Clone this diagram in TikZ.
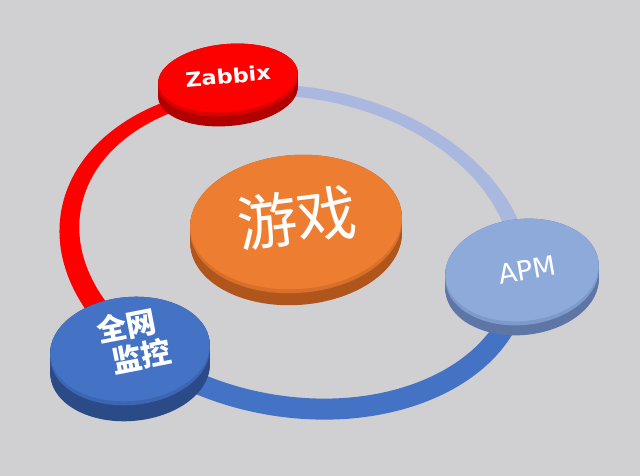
\documentclass[tikz,border=0pt]{standalone}
\usepackage{fontspec}
\newfontfamily\cjk{Noto Sans CJK SC}
\newfontfamily\zfont{DejaVu Sans}[FakeStretch=1.12]
\newfontfamily\apmfont{DejaVu Sans}
\definecolor{bg}{HTML}{D0CFD2}
\definecolor{ringred}{HTML}{FF0000}
\definecolor{ringlight}{HTML}{AAB8E0}
\definecolor{ringblue}{HTML}{4472C4}
\definecolor{zface}{HTML}{FD0000}
\definecolor{zbevel}{HTML}{DA0000}
\definecolor{zside}{HTML}{B00000}
\definecolor{gface}{HTML}{ED7D31}
\definecolor{gbevel}{HTML}{D8702A}
\definecolor{gside}{HTML}{B0561C}
\definecolor{qface}{HTML}{4472C4}
\definecolor{qbevel}{HTML}{3C66B2}
\definecolor{qside}{HTML}{2B4A88}
\definecolor{aface}{HTML}{8EAADB}
\definecolor{abevel}{HTML}{7E9ACB}
\definecolor{aside}{HTML}{5E76A6}
% disc: x, y, rx, ry, rotation, thickness, face, bevel, side
\newcommand\mydisc[9]{%
  \foreach \d in {0,...,#6}{%
    \fill[#9, rotate around={#5:(#1,#2+\d)}] (#1,#2+\d) ellipse[x radius=#3pt, y radius=#4pt];
  }
  \fill[#8, rotate around={#5:(#1,#2+4)}] (#1,#2+4) ellipse[x radius=#3pt, y radius=#4pt];
  \fill[#7, rotate around={#5:(#1,#2)}] (#1,#2) ellipse[x radius=#3pt, y radius=#4pt];
}
\newcommand\myring[1]{%
  \fill[#1, even odd rule, rotate around={-10:(295,250)}]
    (295,252) ellipse[x radius=237pt, y radius=165pt]
    (295,247) ellipse[x radius=218pt, y radius=149pt];
}
\tikzset{lbl/.style={text=white, inner sep=0pt}}
\begin{document}
\begin{tikzpicture}[x=1pt,y=-1pt]
\useasboundingbox (0,0) rectangle (640,476);
\fill[bg] (0,0) rectangle (640,476);
\clip (0,0) rectangle (640,476);
% ring segments
\begin{scope}
  \clip (295,250) -- (-40,-620) -- (-1000,-620) -- (-1000,725) -- (-530,725) -- cycle;
  \myring{ringred}
\end{scope}
\begin{scope}
  \clip (295,250) -- (-40,-620) -- (1430,-620) -- (1430,340) -- cycle;
  \myring{ringlight}
\end{scope}
\begin{scope}
  \clip (295,250) -- (1430,340) -- (1430,1200) -- (-530,1200) -- (-530,725) -- cycle;
  \myring{ringblue}
\end{scope}
% discs
\mydisc{228}{78}{70}{34}{5}{14}{zface}{zbevel}{zside}
\mydisc{522}{270}{77}{51}{6}{14}{aface}{abevel}{aside}
\mydisc{130}{349}{80}{52}{5}{20}{qface}{qbevel}{qside}
\mydisc{296}{222}{106}{67}{4}{16}{gface}{gbevel}{gside}
% labels
\node[lbl, rotate=5, font=\zfont\bfseries\fontsize{20}{20}\selectfont] (zabbix) at (228,76) {Zabbix};
\node[lbl, rotate=10, font=\apmfont\fontsize{27}{27}\selectfont] (apm) at (527,270) {APM};
\node[lbl, rotate=7, font=\cjk\fontsize{60}{60}\selectfont] (game) at (297,218) {游戏};
\node[lbl, rotate=11, align=left, font=\cjk\bfseries\fontsize{30}{33}\selectfont] (quan) at (134,341) {全网\\\hspace{9pt}监控};
\end{tikzpicture}
\end{document}
